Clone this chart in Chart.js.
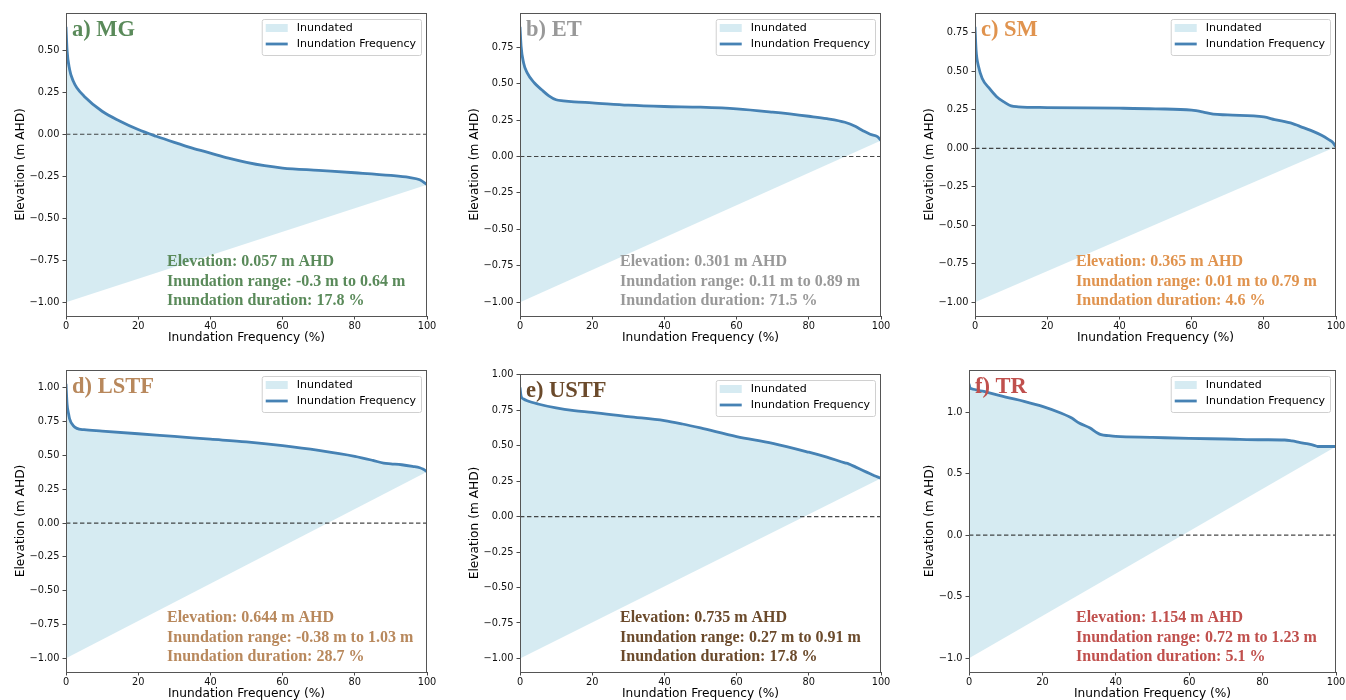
<!DOCTYPE html>
<html>
<head>
<meta charset="utf-8">
<title>Inundation Frequency</title>
<script src="https://cdn.jsdelivr.net/npm/chart.js@4.4.0/dist/chart.umd.min.js"></script>
<style>
    html, body { margin: 0; padding: 0; background: #fff; }
    body { width: 1346px; height: 700px; overflow: hidden; position: relative; }
    .panel { position: absolute; }
</style>
</head>
<body>
<div class="panel" id="p0"><canvas></canvas></div>
<div class="panel" id="p1"><canvas></canvas></div>
<div class="panel" id="p2"><canvas></canvas></div>
<div class="panel" id="p3"><canvas></canvas></div>
<div class="panel" id="p4"><canvas></canvas></div>
<div class="panel" id="p5"><canvas></canvas></div>
<script>
// Datos (frecuencia % vs elevación m AHD)
const freqMG = [0, 0.3, 1, 2, 3, 5, 10, 15, 20, 25, 30, 35, 40, 45, 50, 55, 60, 70, 80, 90, 95, 98, 100];
const elevMG = [0.64, 0.50, 0.386, 0.317, 0.277, 0.227, 0.137, 0.078, 0.028, -0.012, -0.048, -0.082, -0.112, -0.142, -0.167, -0.187, -0.201, -0.215, -0.229, -0.245, -0.257, -0.271, -0.30];

const freqET = [0, 0.3, 1, 2, 4, 6, 8, 10, 12, 15, 20, 30, 40, 50, 60, 70, 80, 85, 90, 93, 95, 97, 99, 100];
const elevET = [0.89, 0.757, 0.642, 0.573, 0.504, 0.458, 0.416, 0.389, 0.382, 0.375, 0.368, 0.352, 0.343, 0.338, 0.327, 0.304, 0.276, 0.26, 0.235, 0.205, 0.177, 0.152, 0.136, 0.11];

const freqSM = [0, 0.3, 1, 2, 4, 6, 8, 10, 12, 20, 40, 50, 60, 63, 66, 70, 80, 83, 88, 90, 93, 96, 98, 99, 100];
const elevSM = [0.79, 0.639, 0.530, 0.454, 0.389, 0.335, 0.302, 0.276, 0.270, 0.265, 0.261, 0.257, 0.248, 0.237, 0.222, 0.217, 0.204, 0.187, 0.161, 0.143, 0.117, 0.085, 0.057, 0.041, 0.01];

const freqLSTF = [0, 0.3, 0.7, 1, 2, 3, 5, 10, 20, 30, 40, 50, 60, 70, 80, 85, 88, 90, 93, 96, 98, 99, 100];
const elevLSTF = [1.03, 0.88, 0.81, 0.77, 0.72, 0.70, 0.69, 0.68, 0.66, 0.64, 0.62, 0.60, 0.572, 0.537, 0.493, 0.463, 0.443, 0.438, 0.431, 0.419, 0.409, 0.397, 0.38];

const freqUSTF = [0, 0.3, 1, 2, 5, 10, 15, 20, 30, 40, 45, 50, 60, 70, 80, 85, 90, 91, 93, 95, 97, 98, 100];
const elevUSTF = [0.91, 0.85, 0.829, 0.817, 0.794, 0.766, 0.747, 0.735, 0.705, 0.677, 0.653, 0.625, 0.564, 0.517, 0.454, 0.419, 0.379, 0.372, 0.349, 0.325, 0.302, 0.29, 0.27];

const freqTR = [0, 0.3, 1, 5, 10, 15, 20, 25, 28, 30, 33, 35, 36, 38, 40, 50, 60, 70, 80, 86, 88, 90, 92, 94, 95, 100];
const elevTR = [1.23, 1.195, 1.187, 1.16, 1.122, 1.087, 1.046, 0.992, 0.951, 0.911, 0.87, 0.83, 0.816, 0.808, 0.802, 0.794, 0.786, 0.781, 0.775, 0.773, 0.765, 0.754, 0.743, 0.73, 0.72, 0.72];

// Etiquetas y estadísticas por sitio
const panelLetters = ['a)', 'b)', 'c)', 'd)', 'e)', 'f)'];
const siteNames = ['MG', 'ET', 'SM', 'LSTF', 'USTF', 'TR'];
const siteElevation = ['0.057', '0.301', '0.365', '0.644', '0.735', '1.154'];
const rangeLow = ['-0.3', '0.11', '0.01', '-0.38', '0.27', '0.72'];
const rangeHigh = ['0.64', '0.89', '0.79', '1.03', '0.91', '1.23'];
const durationPct = ['17.8', '71.5', '4.6', '28.7', '17.8', '5.1'];

// Ticks
const xTicks = [0, 20, 40, 60, 80, 100];
const yTicksMG = [-1, -0.75, -0.5, -0.25, 0, 0.25, 0.5];
const yTicksET = [-1, -0.75, -0.5, -0.25, 0, 0.25, 0.5, 0.75];
const yTicksSM = [-1, -0.75, -0.5, -0.25, 0, 0.25, 0.5, 0.75];
const yTicksLSTF = [-1, -0.75, -0.5, -0.25, 0, 0.25, 0.5, 0.75, 1];
const yTicksUSTF = [-1, -0.75, -0.5, -0.25, 0, 0.25, 0.5, 0.75, 1];
const yTicksTR = [-1, -0.5, 0, 0.5, 1];

// Línea base del área inundada (empieza en -1 m) y nivel cero
const baseStart = -1;
const zeroLevel = 0;

const allFreq = [freqMG, freqET, freqSM, freqLSTF, freqUSTF, freqTR];
const allElev = [elevMG, elevET, elevSM, elevLSTF, elevUSTF, elevTR];
const allYTicks = [yTicksMG, yTicksET, yTicksSM, yTicksLSTF, yTicksUSTF, yTicksTR];

// Colores y posiciones de cada panel
const siteColors = ['#5a8a5a', '#999999', '#e0934e', '#b8885c', '#6b4a2b', '#c0504d'];
const boxes = [
    { L: 66, T: 13, W: 361, H: 303 },
    { L: 520, T: 13, W: 361, H: 303 },
    { L: 975, T: 13, W: 361, H: 303 },
    { L: 66, T: 370, W: 361, H: 302 },
    { L: 520, T: 374, W: 361, H: 298 },
    { L: 969, T: 370, W: 367, H: 302 }
];
const yTitleCenter = [21, 21, 21, 21, 21, 27];
const textOffset = [101, 100, 101, 101, 100, 107];
const tickDecimals = [2, 2, 2, 2, 2, 1];

const Y_AXIS_W = 66;
const X_AXIS_H = 36;
const PAD_TOP = 8;
const PAD_RIGHT = 16;

const FILL_COLOR = 'rgba(173, 216, 230, 0.5)';
const LINE_COLOR = '#4682b4';

// Plugin: marco, título, texto de estadísticas y leyenda
const panelDecor = {
    id: 'panelDecor',
    afterDatasetsDraw(chart, args, opts) {
        const { ctx, chartArea: a } = chart;
        ctx.save();
        ctx.strokeStyle = '#555';
        ctx.lineWidth = 1;
        ctx.strokeRect(Math.round(a.left) + 0.5, Math.round(a.top) + 0.5, Math.round(a.width) - 1, Math.round(a.height));
        ctx.restore();
    },
    afterDraw(chart, args, opts) {
        const { ctx, chartArea: a } = chart;
        ctx.save();

        // título del panel
        ctx.fillStyle = opts.color;
        ctx.font = 'bold 22.5px "Liberation Serif", "Times New Roman", serif';
        ctx.textBaseline = 'alphabetic';
        ctx.textAlign = 'left';
        ctx.fillText(opts.title, a.left + 6, a.top + 23);

        // estadísticas
        ctx.font = 'bold 16px "Liberation Serif", "Times New Roman", serif';
        const tx = a.left + opts.textX;
        ctx.fillText(opts.lines[0], tx, a.bottom - 50);
        ctx.fillText(opts.lines[1], tx, a.bottom - 30.5);
        ctx.fillText(opts.lines[2], tx, a.bottom - 11);

        // leyenda
        ctx.font = '11px "DejaVu Sans"';
        const labels = ['Inundated', 'Inundation Frequency'];
        const textW = Math.max(...labels.map(l => ctx.measureText(l).width));
        const w = 35 + textW + 5;
        const h = 36;
        const x0 = a.right - 6 - w;
        const y0 = a.top + 6;
        ctx.beginPath();
        ctx.roundRect(x0 + 0.5, y0 + 0.5, w, h, 2);
        ctx.fillStyle = 'rgba(255,255,255,0.8)';
        ctx.fill();
        ctx.strokeStyle = '#d0d0d0';
        ctx.lineWidth = 1;
        ctx.stroke();

        ctx.fillStyle = FILL_COLOR;
        ctx.fillRect(x0 + 4, y0 + 5, 22, 8);
        ctx.strokeStyle = LINE_COLOR;
        ctx.lineWidth = 2.8;
        ctx.beginPath();
        ctx.moveTo(x0 + 4, y0 + 25);
        ctx.lineTo(x0 + 26, y0 + 25);
        ctx.stroke();

        ctx.fillStyle = '#000';
        ctx.textBaseline = 'middle';
        ctx.fillText(labels[0], x0 + 35, y0 + 9.5);
        ctx.fillText(labels[1], x0 + 35, y0 + 25.5);
        ctx.restore();
    }
};

function formatTick(v, dec) {
    return v.toFixed(dec).replace('-', '\u2212');
}

function buildPanel(i) {
    const box = boxes[i];
    const div = document.getElementById('p' + i);
    div.style.left = (box.L - Y_AXIS_W) + 'px';
    div.style.top = (box.T - PAD_TOP) + 'px';
    div.style.width = (Y_AXIS_W + box.W + PAD_RIGHT) + 'px';
    div.style.height = (PAD_TOP + box.H + X_AXIS_H) + 'px';

    const freq = allFreq[i];
    const elev = allElev[i];
    const curve = freq.map((f, k) => ({ x: f, y: elev[k] }));
    const endElev = elev[elev.length - 1];
    const baseLine = [{ x: xTicks[0], y: baseStart }, { x: xTicks[xTicks.length - 1], y: endElev }];
    const zeroLine = [{ x: xTicks[0], y: zeroLevel }, { x: xTicks[xTicks.length - 1], y: zeroLevel }];

    // límites con margen del 5% como en matplotlib
    const lo = Math.min(baseStart, ...elev);
    const hi = Math.max(...elev);
    const margin = 0.05 * (hi - lo);

    const yTicks = allYTicks[i];
    const dec = tickDecimals[i];

    return new Chart(div.querySelector('canvas'), {
        type: 'line',
        data: {
            datasets: [
                {
                    label: 'Inundation Frequency',
                    data: curve,
                    borderColor: LINE_COLOR,
                    borderWidth: 2.8,
                    pointRadius: 0,
                    cubicInterpolationMode: 'monotone',
                    backgroundColor: FILL_COLOR,
                    fill: { target: 1 }
                },
                {
                    label: 'base',
                    data: baseLine,
                    borderWidth: 0,
                    borderColor: 'rgba(0,0,0,0)',
                    pointRadius: 0,
                    fill: false
                },
                {
                    label: 'zero',
                    data: zeroLine,
                    borderColor: 'rgba(40,40,40,0.85)',
                    borderWidth: 1.2,
                    borderDash: [4.4, 2.6],
                    pointRadius: 0,
                    fill: false
                }
            ]
        },
        options: {
            responsive: true,
            maintainAspectRatio: false,
            animation: false,
            events: [],
            layout: { padding: { top: PAD_TOP, right: PAD_RIGHT, left: 0, bottom: 0 } },
            scales: {
                x: {
                    type: 'linear',
                    min: xTicks[0],
                    max: xTicks[xTicks.length - 1],
                    afterBuildTicks: s => { s.ticks = xTicks.map(v => ({ value: v })); },
                    afterFit: s => { s.height = X_AXIS_H; s.paddingLeft = 0; s.paddingRight = 0; },
                    border: { display: false },
                    grid: { display: true, drawOnChartArea: false, drawTicks: true, tickLength: 3.5, tickWidth: 0.9, tickColor: '#333', color: '#333' },
                    ticks: { font: { family: 'DejaVu Sans', size: 9.8 }, color: '#111', padding: 1.5, maxRotation: 0, autoSkip: false },
                    title: {
                        display: true,
                        text: 'Inundation Frequency (%)',
                        font: { family: 'DejaVu Sans', size: 12.2 },
                        color: '#000',
                        padding: { top: 0, bottom: 6.7 }
                    }
                },
                y: {
                    type: 'linear',
                    min: lo - margin,
                    max: hi + margin,
                    afterBuildTicks: s => { s.ticks = yTicks.map(v => ({ value: v })); },
                    afterFit: s => { s.width = Y_AXIS_W; s.paddingTop = 0; s.paddingBottom = 0; },
                    border: { display: false },
                    grid: { display: true, drawOnChartArea: false, drawTicks: true, tickLength: 3.5, tickWidth: 0.9, tickColor: '#333', color: '#333' },
                    ticks: {
                        font: { family: 'DejaVu Sans', size: 9.8 },
                        color: '#111',
                        padding: 3,
                        autoSkip: false,
                        callback: v => formatTick(v, dec)
                    },
                    title: {
                        display: true,
                        text: 'Elevation (m AHD)',
                        font: { family: 'DejaVu Sans', size: 12.2 },
                        color: '#000',
                        padding: { top: yTitleCenter[i] - 7.3, bottom: 0 }
                    }
                }
            },
            plugins: {
                legend: { display: false },
                tooltip: { enabled: false },
                filler: { drawTime: 'beforeDatasetsDraw' },
                panelDecor: {
                    title: panelLetters[i] + ' ' + siteNames[i],
                    color: siteColors[i],
                    textX: textOffset[i],
                    lines: [
                        'Elevation: ' + siteElevation[i] + ' m AHD',
                        'Inundation range: ' + rangeLow[i] + ' m to ' + rangeHigh[i] + ' m',
                        'Inundation duration: ' + durationPct[i] + ' %'
                    ]
                }
            }
        },
        plugins: [panelDecor]
    });
}

function initializeApp() {
    if (typeof Chart === 'undefined') {
        console.error('Chart.js no está cargado');
        return;
    }
    for (let i = 0; i < 6; i++) buildPanel(i);
}

document.addEventListener('DOMContentLoaded', initializeApp);
</script>
</body>
</html>
